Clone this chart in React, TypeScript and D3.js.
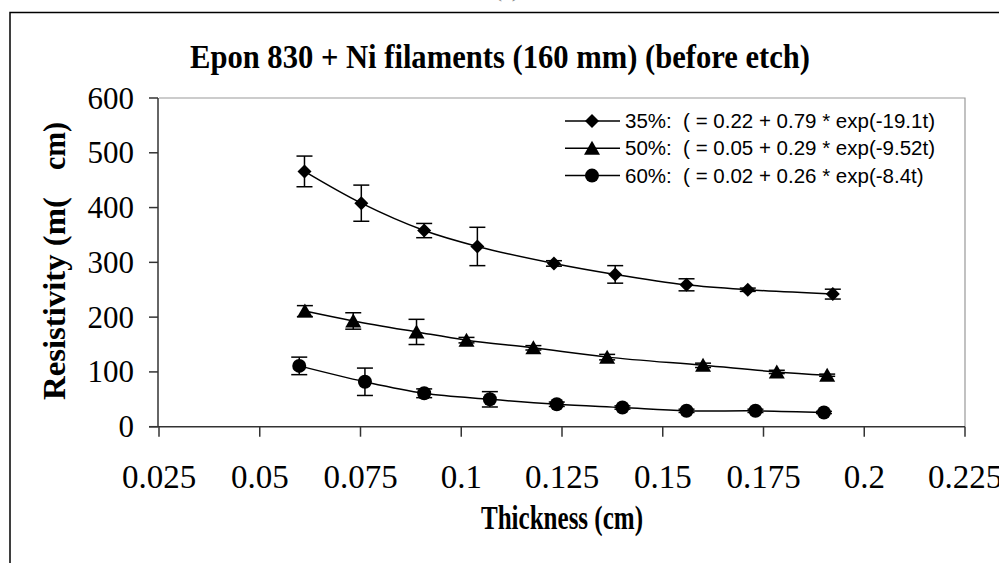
import React from "react";
import * as d3 from "d3";

const titleText = "Epon 830 + Ni filaments (160 mm) (before etch)";
const xTitle = "Thickness (cm)";
const yTitleA = "Resistivity (m(";
const yTitleB = "cm)";

const xTicks = [0.025, 0.05, 0.075, 0.1, 0.125, 0.15, 0.175, 0.2, 0.225];
const xTickLabels = ["0.025", "0.05", "0.075", "0.1", "0.125", "0.15", "0.175", "0.2", "0.225"];
const yTicks = [0, 100, 200, 300, 400, 500, 600];

const thickness35 = [0.0611, 0.0752, 0.0908, 0.104, 0.123, 0.1382, 0.1559, 0.1711, 0.1922];
const res35 = [466, 408, 358, 329, 298, 278, 259, 250, 242];
const err35 = [28, 33, 13, 35, 5, 16, 11, 3, 9];

const thickness50 = [0.0612, 0.0732, 0.0889, 0.1013, 0.1179, 0.1362, 0.16, 0.1783, 0.1908];
const res50 = [211, 193, 173, 158, 144, 127, 112, 100, 94];
const err50 = [10, 15, 23, 5, 4, 5, 4, 3, 2];

const thickness60 = [0.0598, 0.0761, 0.0908, 0.1071, 0.1237, 0.14, 0.1559, 0.173, 0.19];
const res60 = [111, 82, 61, 50, 41, 35, 29, 29, 26];
const err60 = [16, 25, 8, 14, 4, 3, 3, 3, 2];

const seriesNames = ["35%", "50%", "60%"];
const legendLabels = [
  "35%:  ( = 0.22 + 0.79 * exp(-19.1t)",
  "50%:  ( = 0.05 + 0.29 * exp(-9.52t)",
  "60%:  ( = 0.02 + 0.26 * exp(-8.4t)",
];
const markerTypes = ["diamond", "triangle", "circle"];

const W = 999;
const H = 563;

const x = d3.scaleLinear().domain([0.025, 0.225]).range([159, 965]);
const y = d3.scaleLinear().domain([0, 600]).range([426.7, 98]);

function Marker({ type, cx, cy }: { type: string; cx: number; cy: number }) {
  if (type === "diamond") {
    const r = 7;
    return <path d={`M${cx},${cy - r}L${cx + r},${cy}L${cx},${cy + r}L${cx - r},${cy}Z`} fill="#000" />;
  }
  if (type === "triangle") {
    const w = 8, h = 13;
    return <path d={`M${cx},${cy - h / 2 - 1}L${cx + w},${cy + h / 2}L${cx - w},${cy + h / 2}Z`} fill="#000" />;
  }
  return <circle cx={cx} cy={cy} r={7} fill="#000" />;
}

export default function App() {
  const series = [
    { xs: thickness35, ys: res35, es: err35 },
    { xs: thickness50, ys: res50, es: err50 },
    { xs: thickness60, ys: res60, es: err60 },
  ];
  const line = d3
    .line<[number, number]>()
    .x((d) => x(d[0]))
    .y((d) => y(d[1]))
    .curve(d3.curveCatmullRom.alpha(0.5));

  const serif = "'Liberation Serif', 'Times New Roman', serif";
  const sans = "'Liberation Sans', Arial, sans-serif";

  return (
    <svg width={W} height={H} style={{ position: "absolute", left: 0, top: 0, background: "#fff" }}>
      <rect x={0} y={0} width={W} height={H} fill="#fff" />
      <text x={507} y={-3} textAnchor="middle" fontFamily={serif} fontSize={22} fill="#888">(a)</text>
      {/* outer frame */}
      <path d={`M10,${H + 5}V12.5H${W + 5}`} fill="none" stroke="#000" strokeWidth={1.5} />

      {/* title */}
      <text x={500} y={68} textAnchor="middle" fontFamily={serif} fontWeight="bold" fontSize={33}
        textLength={620} lengthAdjust="spacingAndGlyphs" fill="#000">
        {titleText}
      </text>

      {/* plot border top/right */}
      <path d={`M${x(0.025)},${y(600)}H${x(0.225)}V${y(0)}`} fill="none" stroke="#999" strokeWidth={1.2} />

      {/* y axis */}
      <line x1={x(0.025) - 1} x2={x(0.025) - 1} y1={y(600)} y2={y(0)} stroke="#333" strokeWidth={1.5} />
      {yTicks.map((t) => (
        <g key={"y" + t}>
          <line x1={x(0.025) - 10} x2={x(0.025) - 1} y1={y(t)} y2={y(t)} stroke="#333" strokeWidth={1.5} />
          <text x={134} y={y(t) + 10.5} textAnchor="end" fontFamily={serif} fontSize={31} fill="#000">
            {t}
          </text>
        </g>
      ))}

      {/* x axis */}
      <line x1={x(0.025) - 10} x2={x(0.225)} y1={y(0)} y2={y(0)} stroke="#333" strokeWidth={1.5} />
      {xTicks.map((t, i) => (
        <g key={"x" + t}>
          <line x1={x(t)} x2={x(t)} y1={y(0)} y2={y(0) + 10} stroke="#333" strokeWidth={1.5} />
          <text x={x(t)} y={488} textAnchor="middle" fontFamily={serif} fontSize={33} fill="#000">
            {xTickLabels[i]}
          </text>
        </g>
      ))}

      {/* axis titles */}
      <text x={562} y={529} textAnchor="middle" fontFamily={serif} fontWeight="bold" fontSize={33}
        textLength={162} lengthAdjust="spacingAndGlyphs" fill="#000">
        {xTitle}
      </text>
      <g transform="translate(65,400) rotate(-90)">
        <text x={0} y={0} fontFamily={serif} fontWeight="bold" fontSize={31}
          textLength={203} lengthAdjust="spacingAndGlyphs" fill="#000">
          {yTitleA}
        </text>
        <text x={230} y={0} fontFamily={serif} fontWeight="bold" fontSize={31}
          textLength={48} lengthAdjust="spacingAndGlyphs" fill="#000">
          {yTitleB}
        </text>
      </g>

      {/* series */}
      {series.map((s, si) => {
        const pts: [number, number][] = s.xs.map((v, i) => [v, s.ys[i]]);
        return (
          <g key={seriesNames[si]}>
            <path d={line(pts) || ""} fill="none" stroke="#000" strokeWidth={1.5} />
            {pts.map((p, i) => {
              const cx = x(p[0]);
              const top = y(p[1] + s.es[i]);
              const bot = y(p[1] - s.es[i]);
              return (
                <g key={i}>
                  <line x1={cx} x2={cx} y1={top} y2={bot} stroke="#000" strokeWidth={1.5} />
                  <line x1={cx - 8} x2={cx + 8} y1={top} y2={top} stroke="#000" strokeWidth={1.5} />
                  <line x1={cx - 8} x2={cx + 8} y1={bot} y2={bot} stroke="#000" strokeWidth={1.5} />
                  <Marker type={markerTypes[si]} cx={cx} cy={y(p[1])} />
                </g>
              );
            })}
          </g>
        );
      })}

      {/* legend */}
      {legendLabels.map((lab, i) => {
        const ly = 121 + i * 27.3;
        return (
          <g key={"leg" + i}>
            <line x1={565} x2={620} y1={ly} y2={ly} stroke="#000" strokeWidth={1.5} />
            <Marker type={markerTypes[i]} cx={592} cy={ly} />
            <text x={625} y={ly + 7} fontFamily={sans} fontSize={20.5} fill="#000"
              xmlSpace="preserve" style={{ whiteSpace: "pre" }}>
              {lab}
            </text>
          </g>
        );
      })}
    </svg>
  );
}
